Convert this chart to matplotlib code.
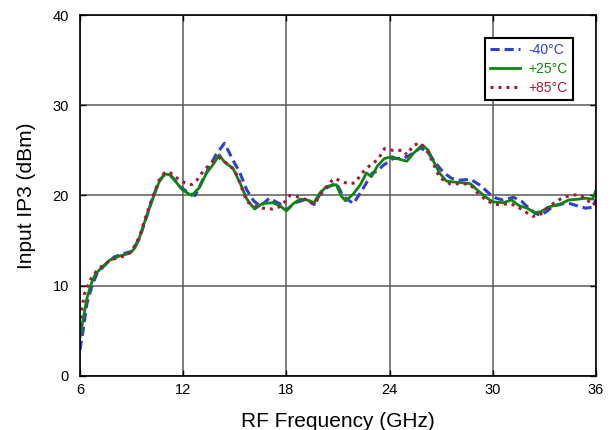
import matplotlib
matplotlib.use("Agg")
import matplotlib.pyplot as plt

plt.rcParams['font.family'] = ['Liberation Sans', 'DejaVu Sans']

# -40 C
freq_m40 = [6.0, 6.2, 6.4, 6.7, 7.0, 7.5, 8.0, 8.6, 9.0, 9.45, 9.85, 10.2, 10.6, 10.9, 11.3,
            11.8, 12.3, 12.7, 13.1, 13.5, 13.9, 14.4, 14.9, 15.3, 15.7, 16.1, 16.5, 17.0,
            17.6, 18.0, 18.5, 19.2, 19.6, 20.1, 20.9, 21.3, 21.9, 22.4, 23.0, 23.3, 23.6,
            24.2, 24.8, 25.4, 25.8, 26.25, 26.6, 27.1, 27.6, 28.1, 28.7, 29.3, 29.8, 30.2,
            30.6, 31.2, 31.65, 32.1, 32.5, 32.8, 33.1, 33.5, 34.1, 34.5, 35.0, 35.4, 35.8, 36.0]
ip3_m40 = [2.9, 5.3, 8.0, 10.0, 11.4, 12.4, 13.2, 13.6, 13.8, 15.2, 17.5, 19.6, 21.6, 22.3, 22.2,
           21.0, 20.3, 20.0, 21.6, 23.1, 24.5, 25.8, 23.9, 22.5, 20.6, 19.4, 18.8, 19.7,
           19.1, 18.4, 19.2, 19.6, 19.0, 20.6, 21.4, 19.9, 19.1, 20.6, 22.5, 22.7, 23.3,
           24.1, 24.1, 24.7, 25.3, 24.7, 23.8, 22.6, 21.9, 21.7, 21.8, 21.1, 20.2, 19.7,
           19.5, 19.8, 19.4, 18.6, 18.0, 17.8, 18.2, 18.8, 19.1, 19.1, 18.8, 18.6, 18.7, 19.6]

# +25 C
freq_p25 = [6.0, 6.2, 6.4, 6.65, 6.9, 7.2, 7.7, 8.3, 8.9, 9.2, 9.45, 9.85, 10.2, 10.6, 10.92,
            11.2, 11.5, 11.96, 12.5, 12.95, 13.36, 13.8, 14.1, 14.4, 14.9, 15.3, 15.7, 16.15,
            16.6, 17.2, 17.6, 18.0, 18.4, 18.8, 19.2, 19.6, 19.95, 20.35, 20.9, 21.2, 21.45,
            21.9, 22.3, 22.65, 22.95, 23.3, 23.7, 24.15, 24.4, 25.0, 25.4, 25.9, 26.25, 26.6,
            26.9, 27.3, 27.7, 28.3, 28.7, 29.1, 29.6, 30.0, 30.6, 31.1, 31.5, 32.0, 32.4,
            32.8, 33.2, 33.6, 34.0, 34.4, 35.0, 35.4, 35.8, 36.0]
ip3_p25 = [4.3, 6.5, 8.6, 10.2, 11.3, 11.9, 12.8, 13.3, 13.6, 14.2, 15.3, 17.6, 19.5, 21.5, 22.4,
           22.3, 21.7, 20.6, 20.0, 20.9, 22.5, 23.6, 24.5, 23.7, 23.0, 21.4, 19.6, 18.5,
           19.1, 19.2, 18.9, 18.3, 19.1, 19.6, 19.5, 19.2, 20.3, 21.0, 21.2, 19.9, 19.4,
           20.2, 21.2, 22.5, 22.1, 23.3, 24.1, 24.3, 24.1, 23.8, 24.7, 25.6, 25.0, 23.6,
           22.5, 21.6, 21.5, 21.4, 21.3, 20.6, 19.8, 19.3, 19.2, 19.5, 18.9, 18.6, 18.1,
           18.2, 18.7, 18.9, 19.1, 19.5, 19.6, 19.7, 19.6, 20.6]

# +85 C
freq_p85 = [6.0, 6.1, 6.25, 6.45, 6.65, 6.95, 7.4, 8.0, 8.6, 9.0, 9.45, 9.85, 10.2, 10.6, 10.9,
            11.2, 11.8, 12.2, 12.5, 12.8, 13.2, 13.7, 14.1, 14.5, 15.0, 15.3, 15.7, 16.3,
            16.6, 17.2, 17.7, 18.2, 18.8, 19.3, 19.6, 20.1, 20.5, 20.8, 21.3, 21.6, 22.0,
            22.4, 23.0, 23.3, 23.7, 24.2, 24.8, 25.0, 25.4, 25.8, 26.25, 26.6, 26.9, 27.5,
            28.3, 28.7, 29.1, 29.6, 30.1, 30.4, 31.0, 31.4, 31.8, 32.3, 32.7, 33.0, 33.5,
            34.0, 34.5, 35.0, 35.4, 35.8, 36.0]
ip3_p85 = [5.5, 7.3, 9.0, 10.0, 10.8, 11.6, 12.4, 13.0, 13.3, 13.8, 15.4, 17.8, 19.7, 21.7, 22.5,
           22.6, 21.7, 21.3, 21.2, 21.7, 22.8, 23.7, 24.2, 23.6, 22.8, 21.4, 19.3, 18.7,
           18.6, 18.5, 18.8, 20.0, 19.8, 19.4, 19.0, 20.4, 21.4, 21.9, 21.5, 21.3, 21.4,
           22.5, 23.6, 23.9, 25.2, 25.0, 25.0, 24.5, 25.6, 25.8, 24.7, 23.3, 22.0, 21.3,
           21.3, 21.2, 20.3, 19.5, 19.0, 19.0, 19.1, 18.8, 18.3, 17.7, 17.8, 18.3, 19.1,
           19.7, 20.0, 20.1, 19.7, 18.9, 19.3]

labels = ['-40°C', '+25°C', '+85°C']
colors = ['#2f3fd0', '#0e860e', '#a8183c']
x_ticks = [6, 12, 18, 24, 30, 36]
y_ticks = [0, 10, 20, 30, 40]

fig = plt.figure(figsize=(6.13, 4.30), dpi=100)
ax = fig.add_axes([0.1305, 0.1256, 0.8418, 0.8395])

ax.plot(freq_m40, ip3_m40, color=colors[0], lw=2.2, linestyle=(0, (3, 1.6)), label=labels[0])
ax.plot(freq_p25, ip3_p25, color=colors[1], lw=2.0, linestyle='-', label=labels[1])
ax.plot(freq_p85, ip3_p85, color=colors[2], lw=2.2, linestyle=(0, (1, 1.6)), label=labels[2])

ax.set_xlim(6, 36)
ax.set_ylim(0, 40)
ax.set_xticks(x_ticks)
ax.set_yticks(y_ticks)
ax.grid(True, color='#5a5a5a', lw=1.1)
ax.set_axisbelow(True)
for s in ax.spines.values():
    s.set_color('black')
    s.set_linewidth(1.2)
ax.tick_params(direction='in', length=4, width=1, top=True, right=True,
               labelsize=10.5, colors='black')
ax.tick_params(axis='y', pad=8)
ax.tick_params(axis='x', pad=5)

ax.set_xlabel('RF Frequency (GHz)', fontsize=15, labelpad=11)
ax.set_ylabel('Input IP3 (dBm)', fontsize=15, labelpad=12)

leg = ax.legend(loc='upper right', bbox_to_anchor=(0.955, 0.935), fontsize=10,
                frameon=True, fancybox=False, edgecolor='black', framealpha=1,
                handlelength=2.2, handletextpad=0.6, labelspacing=0.35,
                borderpad=0.35, borderaxespad=0)
leg.get_frame().set_linewidth(1.5)
for txt, c in zip(leg.get_texts(), colors):
    txt.set_color(c)

fig.savefig('out.png', dpi=100)
